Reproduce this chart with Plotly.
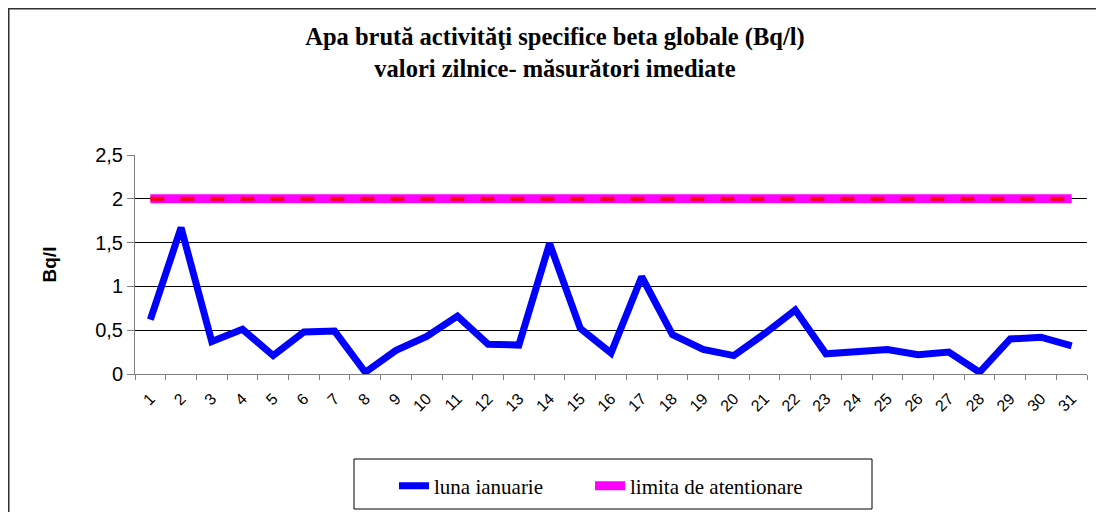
import plotly.graph_objects as go

days = [str(d) for d in range(1, 32)]
luna_ianuarie = [0.62, 1.67, 0.37, 0.51, 0.21, 0.48, 0.49, 0.02, 0.27, 0.43,
                 0.66, 0.34, 0.33, 1.49, 0.52, 0.24, 1.11, 0.45, 0.28, 0.21,
                 0.46, 0.73, 0.23, 0.25, 0.28, 0.22, 0.25, 0.02, 0.40, 0.42, 0.32]
limita = [2.0] * 31
y_ticks = [0, 0.5, 1, 1.5, 2, 2.5]
y_ticktext = ["0", "0,5", "1", "1,5", "2", "2,5"]

O = 8  # page body offset
W, H = 1104 - O, 512 - O
L, R, T, B = 135 - O, 17, 155 - O, 138
pw, ph = W - L - R, H - T - B

def px(x):
    return (x - O - L) / pw

def py(y):
    return (H - B - (y - O)) / ph

serif = "Liberation Serif, Times New Roman, serif"
NB = "\u00a0"

fig = go.Figure()
fig.add_trace(go.Scatter(x=days, y=luna_ianuarie, mode="lines", name="luna ianuarie" + NB * 8,
                         line=dict(color="#0000FF", width=7)))
fig.add_trace(go.Scatter(x=days, y=limita, mode="lines", name="limita de atentionare",
                         line=dict(color="#FF00FF", width=9)))
fig.add_trace(go.Scatter(x=days, y=limita, mode="lines", showlegend=False, hoverinfo="skip",
                         line=dict(color="#FF0000", width=4, dash="14px,16px")))

fig.update_layout(
    width=W, height=H,
    margin=dict(l=L, r=R, t=T, b=B, autoexpand=False),
    paper_bgcolor="white", plot_bgcolor="white",
    separators=",.",
    title=dict(text="<b>Apa brută activităţi specifice beta globale (Bq/l)<br>valori zilnice- măsurători imediate</b>",
               x=(555 - O) / W, xref="container", xanchor="center",
               y=1 - 37 / H, yref="container", yanchor="top",
               font=dict(family=serif, size=24.5, color="black")),
    showlegend=True,
    legend=dict(orientation="h", x=px(394), xanchor="left", y=py(486), yanchor="middle",
                borderwidth=0, bgcolor="rgba(0,0,0,0)",
                font=dict(family=serif, size=21, color="black")),
    xaxis=dict(type="category", range=[-0.5, 30.5], tickson="boundaries",
               ticks="outside", ticklen=5, tickcolor="#808080", automargin=False,
               showline=True, linecolor="#808080", linewidth=1, showgrid=False,
               tickangle=-45, ticklabelstandoff=8,
               tickfont=dict(family="Arial", size=16, color="black")),
    yaxis=dict(range=[0, 2.5], tickvals=y_ticks, ticktext=y_ticktext,
               ticks="outside", ticklen=7, tickcolor="#808080",
               showline=True, linecolor="#808080", linewidth=1,
               showgrid=True, gridcolor="black", gridwidth=1, zeroline=False,
               tickfont=dict(family="Arial", size=20, color="black"),
               title=dict(text="<b>Bq/l</b>", font=dict(family="Arial", size=19, color="black"),
                          standoff=33)),
    shapes=[
        dict(type="rect", xref="paper", yref="paper",
             x0=px(O), x1=px(1114), y0=py(522), y1=py(O),
             line=dict(color="#303030", width=3), fillcolor="rgba(0,0,0,0)", layer="below"),
        dict(type="rect", xref="paper", yref="paper",
             x0=px(354), x1=px(872), y0=py(509), y1=py(459),
             line=dict(color="black", width=1), fillcolor="rgba(0,0,0,0)", layer="below"),
    ],
)

fig.write_html("out.html")
